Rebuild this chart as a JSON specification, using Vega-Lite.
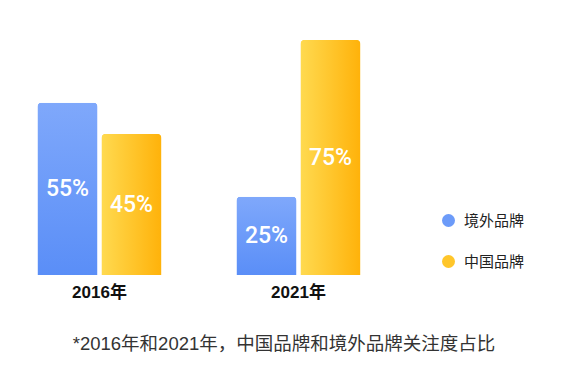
{
  "$schema": "https://vega.github.io/schema/vega-lite/v6.json",
  "width": 398,
  "height": 235,
  "autosize": {"type": "none"},
  "padding": {"left": 0, "top": 40, "right": 189, "bottom": 100},
  "background": "white",
  "config": {"view": {"stroke": null}},
  "data": {
    "values": [
      {"year": "2016年", "brand": "境外品牌", "value": 0.55},
      {"year": "2016年", "brand": "中国品牌", "value": 0.45},
      {"year": "2021年", "brand": "境外品牌", "value": 0.25},
      {"year": "2021年", "brand": "中国品牌", "value": 0.75}
    ]
  },
  "title": {
    "text": "*2016年和2021年，中国品牌和境外品牌关注度占比",
    "orient": "bottom",
    "anchor": "middle",
    "dx": 85,
    "offset": 35,
    "fontSize": 18.5,
    "fontWeight": "normal",
    "color": "#333333",
    "font": "Liberation Sans, Noto Sans CJK SC"
  },
  "encoding": {
    "x": {
      "field": "year",
      "type": "nominal",
      "scale": {"paddingInner": 0.377, "paddingOuter": 0.1885},
      "axis": {
        "title": null,
        "labelAngle": 0,
        "domain": false,
        "ticks": false,
        "labelFontSize": 17,
        "labelFontWeight": "bold",
        "labelColor": "#111111",
        "labelPadding": 9,
        "labelFont": "Liberation Sans, Noto Sans CJK SC"
      }
    },
    "xOffset": {
      "field": "brand",
      "type": "nominal",
      "sort": ["境外品牌", "中国品牌"],
      "scale": {"paddingInner": 0.0625, "paddingOuter": 0}
    }
  },
  "layer": [
    {
      "mark": {"type": "bar", "cornerRadiusTopLeft": 4, "cornerRadiusTopRight": 4},
      "encoding": {
        "y": {"field": "value", "type": "quantitative", "scale": {"domain": [0, 0.75], "nice": false}, "axis": null},
        "color": {
          "field": "brand",
          "type": "nominal",
          "scale": {"domain": ["境外品牌", "中国品牌"], "range": ["#6c9bf9", "#ffc62a"]},
          "legend": {
            "title": null,
            "orient": "none",
            "legendX": 441,
            "legendY": 173,
            "symbolType": "circle",
            "symbolSize": 169,
            "symbolStrokeWidth": 0,
            "symbolOpacity": 1,
            "labelFontSize": 15,
            "labelFont": "Noto Sans CJK SC",
            "labelColor": "#222222",
            "rowPadding": 25,
            "labelOffset": 8,
            "padding": 0
          }
        }
      }
    },
    {
      "mark": {"type": "bar", "cornerRadiusTopLeft": 4, "cornerRadiusTopRight": 4},
      "encoding": {
        "y": {"field": "value", "type": "quantitative", "scale": {"domain": [0, 0.75], "nice": false}, "axis": null},
        "color": {
          "condition": {
            "test": "datum.brand === '境外品牌'",
            "value": {"gradient": "linear", "x1": 0, "y1": 0, "x2": 0, "y2": 1, "stops": [{"offset": 0, "color": "#7fa8fb"}, {"offset": 1, "color": "#5a8ef7"}]}
          },
          "value": {"gradient": "linear", "x1": 0, "y1": 0, "x2": 1, "y2": 0, "stops": [{"offset": 0, "color": "#ffda50"}, {"offset": 1, "color": "#ffb20a"}]}
        }
      }
    },
    {
      "mark": {"type": "text", "color": "white", "fontSize": 23, "fontWeight": 500, "font": "Roboto", "baseline": "middle"},
      "encoding": {
        "y": {"field": "value", "type": "quantitative", "scale": {"domain": [0, 1.5], "nice": false}, "axis": null},
        "text": {"field": "value", "type": "quantitative", "format": ".0%"}
      }
    }
  ],
  "resolve": {"scale": {"y": "independent"}}
}
